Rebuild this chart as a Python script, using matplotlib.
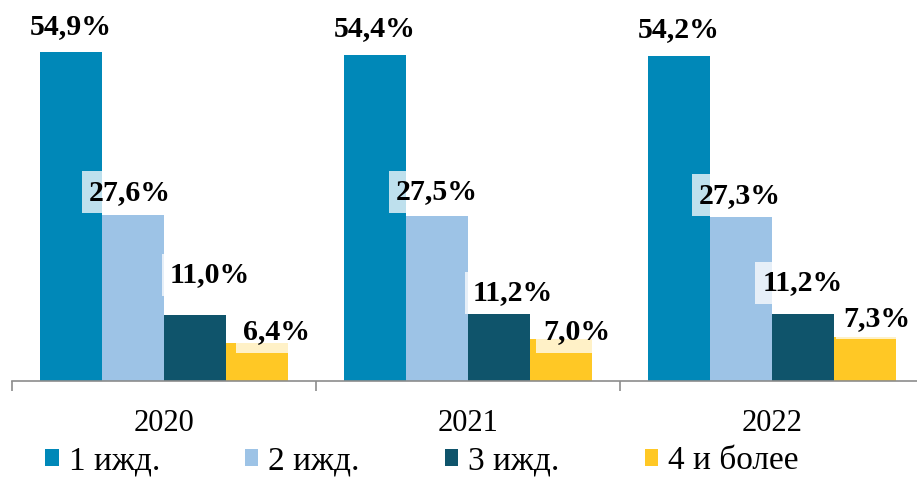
import matplotlib.pyplot as plt
import numpy as np

years = ["2020", "2021", "2022"]
series = ["1 ижд.", "2 ижд.", "3 ижд.", "4 и более"]
v1 = [54.9, 54.4, 54.2]
v2 = [27.6, 27.5, 27.3]
v3 = [11.0, 11.2, 11.2]
v4 = [6.4, 7.0, 7.3]
labels1 = ["54,9%", "54,4%", "54,2%"]
labels2 = ["27,6%", "27,5%", "27,3%"]
labels3 = ["11,0%", "11,2%", "11,2%"]
labels4 = ["6,4%", "7,0%", "7,3%"]

colors = ["#0088B8", "#9DC3E6", "#0F546B", "#FFC825"]
# label shifts in pixels (dx, dy) per series, per year
shift_x = [[0, 0, 0], [-3, 0, -1], [15, 14, 0], [20, 16, 12]]
shift_y = [[25, 26, 26], [23, 24, 22], [40, 21, 31], [11, 7, 19]]

plt.rcParams['font.family'] = ['Liberation Serif', 'DejaVu Serif']

fig = plt.figure(figsize=(9.17, 4.78), dpi=100)
ax = fig.add_axes([12 / 917, 97 / 478, 912 / 917, 381 / 478])

x = np.arange(len(years))
w = 62 / 304
vals = [v1, v2, v3, v4]
labs = [labels1, labels2, labels3, labels4]
for i in range(4):
    pos = x + (i - 1.5) * w
    ax.bar(pos, vals[i], width=w, color=colors[i], label=series[i], zorder=2)
    for j, (p, v, t) in enumerate(zip(pos, vals[i], labs[i])):
        ax.annotate(t, (p, v), xytext=(shift_x[i][j], shift_y[i][j]),
                    textcoords="offset pixels",
                    ha="center", va="center", fontsize=21.5, fontweight="bold",
                    zorder=3,
                    bbox=dict(boxstyle="square,pad=0.25", fc="white", ec="none", alpha=0.75))

ax.set_xlim(-0.5, 2.5)
ax.set_ylim(0, 63.5)
ax.set_yticks([])
for s in ["top", "right", "left"]:
    ax.spines[s].set_visible(False)
ax.spines["bottom"].set_color("#8c8c8c")
ax.spines["bottom"].set_linewidth(1.2)
ax.set_xticks(x)
ax.set_xticklabels(years, fontsize=22)
ax.set_xticks([-0.5, 0.5, 1.5, 2.5], minor=True)
ax.tick_params(axis="x", which="major", length=0, pad=20)
ax.tick_params(axis="x", which="minor", length=7, width=1.2, color="#8c8c8c")

fig.legend(loc="center left", bbox_to_anchor=(32 / 917, 17 / 478), ncol=4, frameon=False,
           fontsize=24, handlelength=0.4, handleheight=0.4, handletextpad=0.3,
           columnspacing=2.55, borderaxespad=0)

fig.savefig("out.png", dpi=100)
